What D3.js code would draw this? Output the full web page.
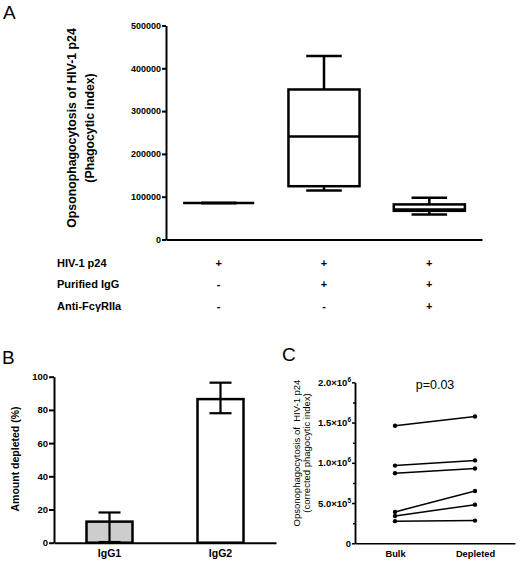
<!DOCTYPE html>
<html>
<head>
<meta charset="utf-8">
<script src="https://cdn.jsdelivr.net/npm/d3@7"></script>
<style>
  body { margin: 0; background: #fff; }
  svg { display: block; }
  text { font-family: "Liberation Sans", Arial, sans-serif; fill: #000; }
</style>
</head>
<body>
<script>
// panel A: box plots
const groupsA = ['p24', 'p24+IgG', 'p24+IgG+antiFc'];
const boxMin = [85000, 114500, 58500];
const boxQ1 = [85000, 124500, 67000];
const boxMed = [85000, 240500, 70000];
const boxQ3 = [85000, 350500, 82000];
const boxMax = [85000, 428500, 97500];
const ticksA = [0, 100000, 200000, 300000, 400000, 500000];
const tableRows = ['HIV-1 p24', 'Purified IgG', 'Anti-FcγRIIa'];
const tableMarks = [['+', '+', '+'], ['-', '+', '+'], ['-', '-', '+']];

// panel B: bars with error bars
const groupsB = ['IgG1', 'IgG2'];
const barMean = [12.7, 86.5];
const barLow = [0.4, 78];
const barHigh = [18.2, 96.4];
const barFill = ['#cdcdcd', '#ffffff'];
const ticksB = [0, 20, 40, 60, 80, 100];

// panel C: paired lines
const groupsC = ['Bulk', 'Depleted'];
const bulk = [1460000, 965000, 870000, 390000, 340000, 275000];
const depleted = [1575000, 1030000, 930000, 650000, 480000, 282000];
const ticksC = [0, 500000, 1000000, 1500000, 2000000];
const minorC = [250000, 750000, 1250000, 1750000];

const drawing = d3.select(document.body).append('svg')
  .attr('width', 520).attr('height', 561);

function styleAxis(g, size, weight, sw) {
  g.attr('font-family', null).attr('font-size', null);
  g.selectAll('path, line').attr('stroke', '#000').attr('stroke-width', sw);
  g.selectAll('text').attr('font-size', size).attr('font-weight', weight).attr('fill', '#000');
}

// ---------- A ----------
drawing.append('text').attr('x', 3).attr('y', 19).attr('font-size', 19).text('A');

const yA = d3.scaleLinear().domain([0, 500000]).range([239.5, 25.5]);
const xA = d3.scaleBand().domain(groupsA).range([166, 482]);

drawing.append('g').attr('transform', 'translate(166,0)')
  .call(d3.axisLeft(yA).tickValues(ticksA).tickFormat(d3.format('d')).tickSize(4).tickPadding(1).tickSizeOuter(0))
  .call(g => styleAxis(g, 9, 'bold', 2));
drawing.append('g').attr('transform', 'translate(0,239.5)')
  .call(d3.axisBottom(xA).tickSize(0).tickFormat('').tickSizeOuter(0))
  .call(g => styleAxis(g, 9, 'bold', 2));

const titleA = drawing.append('text').attr('transform', 'translate(0,128) rotate(-90)')
  .attr('text-anchor', 'middle').attr('font-size', 12.3).attr('font-weight', 'bold');
titleA.append('tspan').attr('x', 0).attr('y', 76).text('Opsonophagocytosis of HIV-1 p24');
titleA.append('tspan').attr('x', 0).attr('y', 94).text('(Phagocytic index)');

const boxW = xA.bandwidth() * 0.675;
const boxes = drawing.append('g').selectAll('g').data(groupsA).join('g')
  .attr('transform', d => `translate(${xA(d) + xA.bandwidth() / 2},0)`);
boxes.append('line')
  .attr('y1', (d, i) => yA(boxMax[i])).attr('y2', (d, i) => yA(boxQ3[i]));
boxes.append('line')
  .attr('y1', (d, i) => yA(boxMin[i])).attr('y2', (d, i) => yA(boxQ1[i]));
boxes.append('line').attr('x1', -boxW / 4).attr('x2', boxW / 4)
  .attr('y1', (d, i) => yA(boxMax[i])).attr('y2', (d, i) => yA(boxMax[i]));
boxes.append('line').attr('x1', -boxW / 4).attr('x2', boxW / 4)
  .attr('y1', (d, i) => yA(boxMin[i])).attr('y2', (d, i) => yA(boxMin[i]));
boxes.append('rect').attr('x', -boxW / 2).attr('width', boxW)
  .attr('y', (d, i) => yA(boxQ3[i]))
  .attr('height', (d, i) => yA(boxQ1[i]) - yA(boxQ3[i]))
  .attr('fill', '#fff');
boxes.append('line').attr('x1', -boxW / 2).attr('x2', boxW / 2)
  .attr('y1', (d, i) => yA(boxMed[i])).attr('y2', (d, i) => yA(boxMed[i]));
boxes.selectAll('line, rect').attr('stroke', '#000').attr('stroke-width', 2.5);

const rowY = [266.5, 288, 310];
tableRows.forEach((r, i) => {
  drawing.append('text').attr('x', 57).attr('y', rowY[i])
    .attr('font-size', 11).attr('font-weight', 'bold').text(r);
  drawing.append('g').selectAll('text').data(tableMarks[i]).join('text')
    .attr('x', (d, j) => xA(groupsA[j]) + xA.bandwidth() / 2)
    .attr('y', rowY[i]).attr('text-anchor', 'middle')
    .attr('font-size', 11).attr('font-weight', 'bold').text(d => d);
});

// ---------- B ----------
drawing.append('text').attr('x', 2).attr('y', 364).attr('font-size', 19).text('B');

const yB = d3.scaleLinear().domain([0, 100]).range([542.7, 376.7]);
const xB = d3.scaleBand().domain(groupsB).range([54, 276]);

drawing.append('g').attr('transform', 'translate(54,0)')
  .call(d3.axisLeft(yB).tickValues(ticksB).tickSize(5).tickPadding(1).tickSizeOuter(0))
  .call(g => styleAxis(g, 9.5, 'bold', 2));

const barW = 46;
const bars = drawing.append('g').selectAll('g').data(groupsB).join('g')
  .attr('transform', d => `translate(${xB(d) + xB.bandwidth() / 2},0)`);
bars.append('rect').attr('x', -barW / 2).attr('width', barW)
  .attr('y', (d, i) => yB(barMean[i]))
  .attr('height', (d, i) => yB(0) - yB(barMean[i]))
  .attr('fill', (d, i) => barFill[i]).attr('stroke', '#000').attr('stroke-width', 2.5);
bars.append('line')
  .attr('y1', (d, i) => yB(barHigh[i])).attr('y2', (d, i) => yB(barLow[i]));
bars.append('line').attr('x1', -11).attr('x2', 11)
  .attr('y1', (d, i) => yB(barHigh[i])).attr('y2', (d, i) => yB(barHigh[i]));
bars.append('line').attr('x1', -11).attr('x2', 11)
  .attr('y1', (d, i) => yB(barLow[i])).attr('y2', (d, i) => yB(barLow[i]));
bars.selectAll('line').attr('stroke', '#000').attr('stroke-width', 2.2);

drawing.append('g').attr('transform', 'translate(0,542.7)')
  .call(d3.axisBottom(xB).tickSize(0).tickPadding(7).tickSizeOuter(0))
  .call(g => styleAxis(g, 10.5, 'bold', 2));

drawing.append('text').attr('transform', 'translate(18.5,459) rotate(-90)')
  .attr('text-anchor', 'middle').attr('font-size', 10.5).attr('font-weight', 'bold')
  .text('Amount depleted (%)');

// ---------- C ----------
drawing.append('text').attr('x', 282).attr('y', 361).attr('font-size', 19).text('C');

const yC = d3.scaleLinear().domain([0, 2000000]).range([543.3, 382.3]);
const xC = d3.scalePoint().domain(groupsC).range([355, 515]).padding(0.5);

drawing.append('g').attr('transform', 'translate(355,0)')
  .call(d3.axisLeft(yC).tickValues(minorC).tickSize(2).tickFormat('').tickSizeOuter(0))
  .call(g => styleAxis(g, 9, 'bold', 1.5));
drawing.append('g').attr('transform', 'translate(355,0)')
  .call(d3.axisLeft(yC).tickValues(ticksC).tickSize(3).tickPadding(1).tickSizeOuter(0))
  .call(g => styleAxis(g, 9.5, 'bold', 1.5))
  .call(g => g.selectAll('.tick text').each(function (d) {
    const t = d3.select(this).text('');
    if (d === 0) { t.text('0'); return; }
    const e = Math.floor(Math.log10(d));
    t.append('tspan').text((d / Math.pow(10, e)).toFixed(1) + '×10');
    t.append('tspan').attr('dy', -4).attr('font-size', 6.5).text(e);
  }));
drawing.append('g').attr('transform', 'translate(0,543.3)')
  .call(d3.axisBottom(xC).tickSize(0).tickPadding(7).tickSizeOuter(0))
  .call(g => styleAxis(g, 9.3, 'bold', 1.5));

const titleC = drawing.append('text').attr('transform', 'translate(0,453) rotate(-90)')
  .attr('text-anchor', 'middle').attr('font-size', 9.5);
titleC.append('tspan').attr('x', 0).attr('y', 299.5).attr('xml:space', 'preserve')
  .text('Opsonophagocytosis of  HIV-1 p24');
titleC.append('tspan').attr('x', 0).attr('y', 309.5).text('(corrected phagocytic index)');

drawing.append('text').attr('x', 435).attr('y', 389).attr('text-anchor', 'middle')
  .attr('font-size', 12.5).text('p=0.03');

const pairs = drawing.append('g').selectAll('g').data(bulk).join('g');
pairs.append('line')
  .attr('x1', xC('Bulk')).attr('x2', xC('Depleted'))
  .attr('y1', d => yC(d)).attr('y2', (d, i) => yC(depleted[i]))
  .attr('stroke', '#000').attr('stroke-width', 1.5);
pairs.append('circle').attr('cx', xC('Bulk')).attr('cy', d => yC(d)).attr('r', 2.2);
pairs.append('circle').attr('cx', xC('Depleted')).attr('cy', (d, i) => yC(depleted[i])).attr('r', 2.2);
</script>
</body>
</html>
